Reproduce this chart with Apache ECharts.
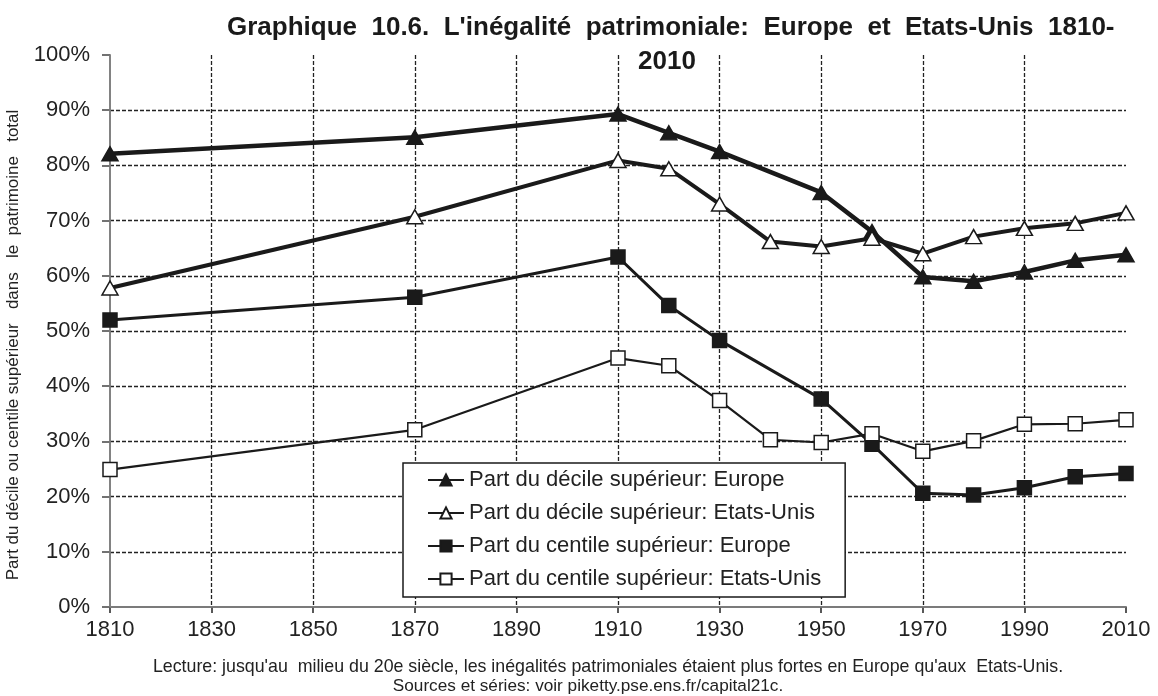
<!DOCTYPE html>
<html>
<head>
<meta charset="utf-8">
<script src="https://cdn.jsdelivr.net/npm/echarts@6/dist/echarts.min.js"></script>
<style>
  html, body { margin: 0; padding: 0; background: #fff; }
  #chart { width: 1158px; height: 696px; }
</style>
</head>
<body>
<div id="chart"></div>
<script>
// années (x) et parts en %
const BASE_YEAR = 1810
const yearsEurope = [1810, 1870, 1910, 1920, 1930, 1950, 1960, 1970, 1980, 1990, 2000, 2010]
const yearsUS = [1810, 1870, 1910, 1920, 1930, 1940, 1950, 1960, 1970, 1980, 1990, 2000, 2010]

const decileEurope = [82.1, 85.1, 89.3, 85.9, 82.5, 75.1, 68.0, 59.8, 59.0, 60.7, 62.8, 63.8]
const decileUS = [57.8, 70.7, 80.9, 79.4, 73.0, 66.2, 65.3, 66.8, 64.0, 67.1, 68.6, 69.5, 71.4]
const centileEurope = [52.0, 56.1, 63.4, 54.6, 48.3, 37.7, 29.5, 20.6, 20.3, 21.6, 23.6, 24.2]
const centileUS = [24.9, 32.1, 45.1, 43.7, 37.4, 30.3, 29.8, 31.4, 28.2, 30.1, 33.1, 33.2, 33.9]

const seriesNames = [
    'Part du décile supérieur: Europe',
    'Part du décile supérieur: Etats-Unis',
    'Part du centile supérieur: Europe',
    'Part du centile supérieur: Etats-Unis'
]

const FONT = "'Liberation Sans', Arial, sans-serif"
const INK = '#1a1a1a'

// l'axe x est décalé de 1810 pour que les graduations tombent sur 1810, 1830...
function pairs(years, values) {
    return years.map((y, i) => [y - BASE_YEAR, values[i]])
}

function lineSeries(name, years, values, opts) {
    return {
        name: name,
        type: 'line',
        data: pairs(years, values),
        symbol: opts.symbol,
        symbolSize: opts.size,
        showAllSymbol: true,
        lineStyle: { color: INK, width: opts.width },
        itemStyle: {
            color: opts.filled ? INK : '#fff',
            borderColor: INK,
            borderWidth: 1.5
        },
        emphasis: { disabled: true },
        z: opts.z
    }
}

let chart = echarts.init(document.getElementById('chart'))

chart.setOption({
    animation: false,
    textStyle: { fontFamily: FONT },
    title: [
        {
            text: "Graphique  10.6.  L'inégalité  patrimoniale:  Europe  et  Etats-Unis  1810-",
            left: 222,
            top: 10,
            textStyle: { fontSize: 26, fontWeight: 'bold', color: INK, fontFamily: FONT }
        },
        {
            text: '2010',
            left: 633,
            top: 44,
            textStyle: { fontSize: 26, fontWeight: 'bold', color: INK, fontFamily: FONT }
        }
    ],
    grid: {
        left: 110,
        right: 32,
        top: 55,
        bottom: 89,
        containLabel: false
    },
    legend: {
        orient: 'vertical',
        left: 403,
        top: 463,
        padding: [6, 24, 7, 24],
        backgroundColor: '#fff',
        borderColor: INK,
        borderWidth: 1.5,
        itemWidth: 36,
        itemHeight: 14,
        itemGap: 11,
        textStyle: { fontSize: 22, color: '#222', fontFamily: FONT },
        data: seriesNames,
        z: 10
    },
    xAxis: [
        {
            type: 'value',
            min: 0,
            max: 200,
            interval: 20,
            axisLine: { show: true, lineStyle: { color: '#222', width: 1.5 } },
            axisTick: { show: true, length: 6, lineStyle: { color: '#222', width: 1.5 } },
            axisLabel: {
                margin: 12,
                fontSize: 22,
                color: '#222',
                formatter: v => String(v + BASE_YEAR)
            },
            splitLine: {
                show: true,
                showMinLine: false,
                showMaxLine: false,
                lineStyle: { color: '#222', width: 1.3, type: [4, 2] }
            }
        },
        {
            // bord supérieur du cadre
            type: 'value',
            position: 'top',
            min: 0,
            max: 200,
            axisLine: { show: true, lineStyle: { color: '#888', width: 1.5 } },
            axisTick: { show: false },
            axisLabel: { show: false },
            splitLine: { show: false },
            z: 1
        }
    ],
    yAxis: [
        {
            type: 'value',
            min: 0,
            max: 100,
            interval: 10,
            axisLine: { show: true, lineStyle: { color: '#444', width: 1.5 } },
            axisTick: { show: true, length: 8, lineStyle: { color: '#444', width: 1.5 } },
            axisLabel: {
                margin: 20,
                fontSize: 22,
                color: '#222',
                formatter: '{value}%'
            },
            splitLine: {
                show: true,
                showMinLine: false,
                showMaxLine: false,
                lineStyle: { color: '#222', width: 1.3, type: [4, 2] }
            }
        },
        {
            // bord droit du cadre
            type: 'value',
            position: 'right',
            min: 0,
            max: 100,
            axisLine: { show: true, lineStyle: { color: '#888', width: 1.5 } },
            axisTick: { show: false },
            axisLabel: { show: false },
            splitLine: { show: false },
            z: 1
        }
    ],
    series: [
        lineSeries(seriesNames[0], yearsEurope, decileEurope, { symbol: 'triangle', size: [16, 14], filled: true, width: 4.5, z: 3 }),
        lineSeries(seriesNames[1], yearsUS, decileUS, { symbol: 'triangle', size: [16, 14], filled: false, width: 4, z: 4 }),
        lineSeries(seriesNames[2], yearsEurope, centileEurope, { symbol: 'rect', size: 14, filled: true, width: 3, z: 3 }),
        lineSeries(seriesNames[3], yearsUS, centileUS, { symbol: 'rect', size: 14, filled: false, width: 2.2, z: 4 })
    ],
    graphic: [
        {
            type: 'text',
            x: 13,
            y: 345,
            rotation: Math.PI / 2,
            style: {
                text: 'Part du décile ou centile supérieur   dans   le  patrimoine   total',
                font: '17px ' + FONT,
                fill: '#222',
                textAlign: 'center',
                textVerticalAlign: 'middle'
            }
        },
        {
            type: 'text',
            x: 608,
            y: 667,
            style: {
                text: "Lecture: jusqu'au  milieu du 20e siècle, les inégalités patrimoniales étaient plus fortes en Europe qu'aux  Etats-Unis.",
                font: '17.8px ' + FONT,
                fill: '#222',
                textAlign: 'center',
                textVerticalAlign: 'middle'
            }
        },
        {
            type: 'text',
            x: 588,
            y: 686,
            style: {
                text: 'Sources et séries: voir piketty.pse.ens.fr/capital21c.',
                font: '17.2px ' + FONT,
                fill: '#222',
                textAlign: 'center',
                textVerticalAlign: 'middle'
            }
        }
    ]
})
</script>
</body>
</html>
